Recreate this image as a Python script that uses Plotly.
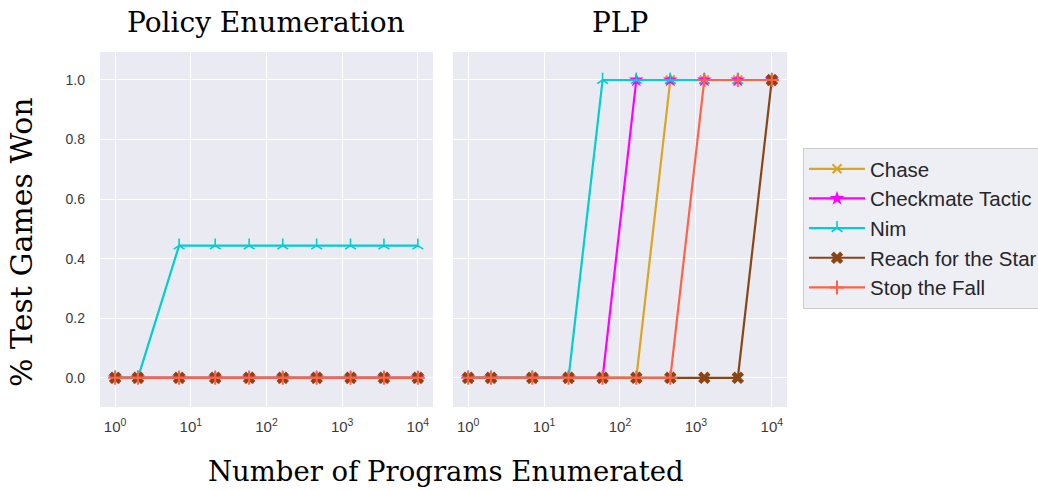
import plotly.graph_objects as go

# ---------------- data ----------------
programs = [1, 2, 7, 21, 59, 164, 460, 1290, 3565, 10000]
series_names = ["Chase", "Checkmate Tactic", "Nim", "Reach for the Star", "Stop the Fall"]

pe_chase = [0, 0, 0, 0, 0, 0, 0, 0, 0, 0]
pe_checkmate = [0, 0, 0, 0, 0, 0, 0, 0, 0, 0]
pe_nim = [0, 0, 0.444, 0.444, 0.444, 0.444, 0.444, 0.444, 0.444, 0.444]
pe_reach = [0, 0, 0, 0, 0, 0, 0, 0, 0, 0]
pe_stop = [0, 0, 0, 0, 0, 0, 0, 0, 0, 0]

plp_chase = [0, 0, 0, 0, 0, 0, 1, 1, 1, 1]
plp_checkmate = [0, 0, 0, 0, 0, 1, 1, 1, 1, 1]
plp_nim = [0, 0, 0, 0, 1, 1, 1, 1, 1, 1]
plp_reach = [0, 0, 0, 0, 0, 0, 0, 0, 0, 1]
plp_stop = [0, 0, 0, 0, 0, 0, 0, 1, 1, 1]

x_tickvals = [1, 10, 100, 1000, 10000]
x_ticktext = ["10<sup>0</sup>", "10<sup>1</sup>", "10<sup>2</sup>", "10<sup>3</sup>", "10<sup>4</sup>"]
y_tickvals = [0.0, 0.2, 0.4, 0.6, 0.8, 1.0]
y_ticktext = ["0.0", "0.2", "0.4", "0.6", "0.8", "1.0"]

panel_titles = ["Policy Enumeration", "PLP"]
x_title = "Number of Programs Enumerated"
y_title = "% Test Games Won"

# ---------------- styles ----------------
colors = ["#DAA520", "#FF00FF", "#00CED1", "#8B4513", "#FF6347"]
symbols = ["x-thin", "star", "y-up", "x", "cross-thin"]
msizes = [9, 11, 9, 11, 10]
mline = [2, 0, 1.6, 0, 2]

panels = [
    [pe_chase, pe_checkmate, pe_nim, pe_reach, pe_stop],
    [plp_chase, plp_checkmate, plp_nim, plp_reach, plp_stop],
]

fig = go.Figure()
for p, data in enumerate(panels):
    xa = "x" if p == 0 else "x2"
    ya = "y" if p == 0 else "y2"
    for i, ys in enumerate(data):
        fig.add_trace(go.Scatter(
            x=programs, y=ys, mode="lines+markers", name=series_names[i],
            legendgroup=series_names[i], showlegend=(p == 0),
            xaxis=xa, yaxis=ya,
            line=dict(color=colors[i], width=2.2),
            marker=dict(symbol=symbols[i], size=msizes[i], color=colors[i],
                        line=dict(color=colors[i], width=mline[i])),
        ))

BG = "#EAEAF2"
serif = "DejaVu Serif"
sans = "Liberation Sans"

common_x = dict(type="log", range=[-0.2, 4.2], tickvals=x_tickvals, ticktext=x_ticktext,
                showgrid=True, gridcolor="white", gridwidth=1.3, zeroline=False,
                showline=False, ticks="", tickfont=dict(family=sans, size=15, color="#3a3a3a"),
                ticklabelstandoff=9)
common_y = dict(range=[-0.098, 1.094], tickvals=y_tickvals, ticktext=y_ticktext,
                showgrid=True, gridcolor="white", gridwidth=1.3, zeroline=False,
                showline=False, ticks="", tickfont=dict(family=sans, size=14, color="#3a3a3a"))

fig.update_layout(
    width=1038, height=490,
    margin=dict(l=100, r=251, t=52, b=83, autoexpand=False),
    paper_bgcolor="white", plot_bgcolor=BG,
    xaxis=dict(domain=[0, 0.4847], anchor="y", **common_x),
    xaxis2=dict(domain=[0.5138, 1.0], anchor="y2", **common_x),
    yaxis=dict(domain=[0, 1], anchor="x", showticklabels=True, ticklabelstandoff=14, **common_y),
    yaxis2=dict(domain=[0, 1], anchor="x2", showticklabels=False, **common_y),
    legend=dict(x=1.0233, y=0.7296, xanchor="left", yanchor="top",
                bgcolor="#EEEEF5", bordercolor="#CCCCCC", borderwidth=1,
                font=dict(family=sans, size=20.5, color="#262626"),
                itemwidth=56,
                traceorder="grouped", tracegroupgap=0),
    showlegend=True,
)

ann = []
ann.append(dict(text=panel_titles[0], x=0.24235, y=1.0845, xref="paper", yref="paper",
                showarrow=False, xanchor="center", yanchor="middle",
                font=dict(family=serif, size=28, color="black")))
ann.append(dict(text=panel_titles[1], x=0.7569, y=1.0845, xref="paper", yref="paper",
                showarrow=False, xanchor="center", yanchor="middle",
                font=dict(family=serif, size=28, color="black")))
ann.append(dict(text=x_title, x=0.5036, y=-0.180, xref="paper", yref="paper",
                showarrow=False, xanchor="center", yanchor="middle",
                font=dict(family=serif, size=27.5, color="black")))
ann.append(dict(text=y_title, x=-0.1135, y=0.4648, xref="paper", yref="paper",
                showarrow=False, xanchor="center", yanchor="middle", textangle=-90,
                font=dict(family=serif, size=30, color="black")))
fig.update_layout(annotations=ann)

# remove the page's default 8px body margin so the figure starts at the window corner
fig.write_html("out.html", config={"displayModeBar": False},
               post_script="document.body.style.margin='0px';")
